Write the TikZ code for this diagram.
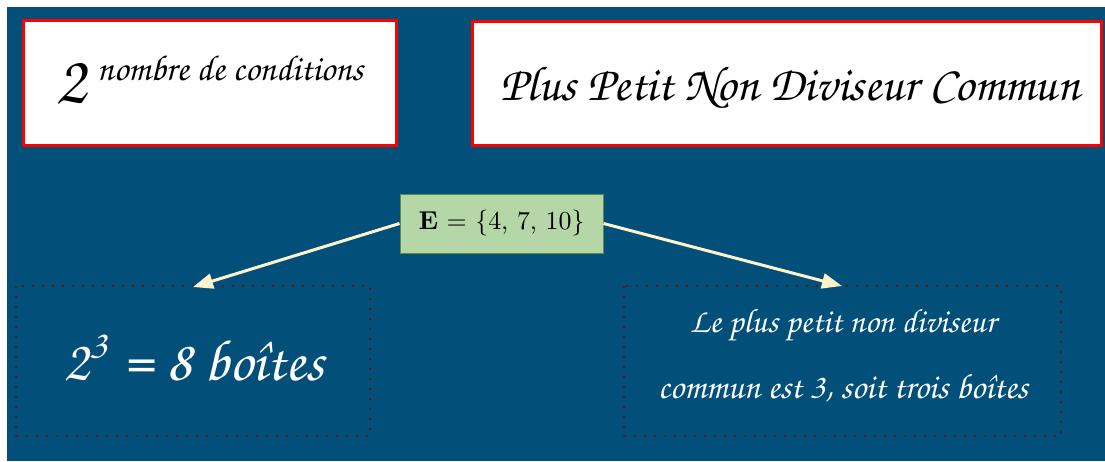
\documentclass[tikz,border=0pt]{standalone}
\usepackage{fontspec}
\usetikzlibrary{arrows.meta}
\newfontfamily\chorus{texgyrechorus-mediumitalic.otf}
\definecolor{bgblue}{HTML}{02507A}
\definecolor{boxred}{HTML}{FF0000}
\definecolor{setgreen}{HTML}{B5D7A8}
\definecolor{setedge}{HTML}{5E8F45}
\definecolor{cream}{HTML}{FFF3CC}
\definecolor{dotbrown}{HTML}{5A1A14}
\tikzset{
  titlebox/.style={draw=boxred, line width=3pt, fill=white},
  dotbox/.style={draw=dotbrown, line width=2pt, dash pattern=on 2pt off 8pt},
  setbox/.style={draw=setedge, line width=1pt, fill=setgreen, minimum width=203pt, minimum height=59pt, inner sep=0pt},
  link/.style={draw=cream, line width=3pt, -{Triangle[length=20pt,width=15pt]}},
  ink/.style={inner sep=0pt, anchor=base},
}
\begin{document}
\begin{tikzpicture}[x=1pt,y=-1pt]
\useasboundingbox (0,0) rectangle (1105,461);
\fill[white] (0,0) rectangle (1105,461);
\fill[bgblue] (7,7) rectangle (1105,461);

% title boxes
\draw[titlebox] (23,20) rectangle (396,145);
\draw[titlebox] (472,21) rectangle (1101,145);
\node[ink, anchor=base west] (two) at (55,103) {\resizebox{!}{40pt}{\chorus 2}};
\node[ink, anchor=base west] (cond) at (97,80) {\resizebox{266pt}{!}{\chorus nombre de conditions}};
\node[ink, anchor=base] (title) at (790,100) {\resizebox{580pt}{!}{\chorus Plus Petit Non Diviseur Commun}};

% the set
\node[setbox] (set) at (501.5,223.5) {\resizebox{166pt}{!}{\textbf{E} = \{4, 7, 10\}}};

% result boxes
\draw[dotbox] (16,286) rectangle (370,436);
\draw[dotbox] (624,286) rectangle (1061,436);
\coordinate (lefttop) at (193,287);
\coordinate (righttop) at (842,286);
\node[ink, white] (eight) at (194,380) {\resizebox{260pt}{!}{\chorus 2\textsuperscript{3} = 8 boîtes}};
\node[ink, white] (line1) at (843,332) {\resizebox{306pt}{!}{\chorus Le plus petit non diviseur}};
\node[ink, white] (line2) at (843,398) {\resizebox{370pt}{!}{\chorus commun est 3, soit trois boîtes}};

% connectors
\draw[link] (set.west) -- (lefttop);
\draw[link] (set.east) -- (righttop);
\end{tikzpicture}
\end{document}
